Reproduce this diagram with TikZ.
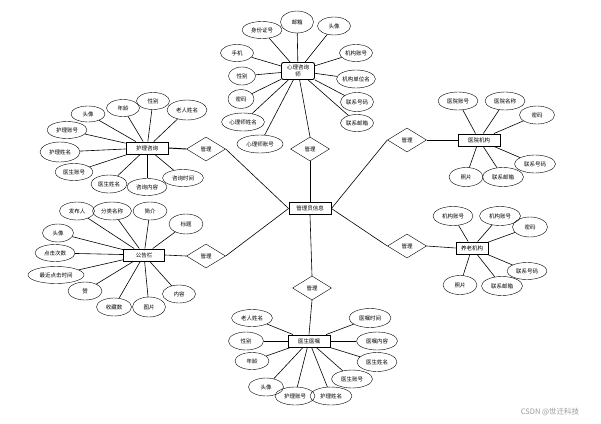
\documentclass[tikz,border=0pt]{standalone}
\usepackage{fontspec}
\newfontfamily\cjk{Noto Sans CJK SC}
\usepackage{tikz}
\usetikzlibrary{shapes.geometric}

\begin{document}
\begin{tikzpicture}[x=1pt,y=-1pt, every node/.style={font=\cjk\fontsize{5.5}{6}\selectfont}, ent/.style={draw,line width=0.9pt,inner sep=1pt,minimum width=42,minimum height=12}, rel/.style={draw,diamond,aspect=1.6,inner sep=0pt,minimum width=39,minimum height=24}, attr/.style={draw,ellipse,inner sep=0pt,minimum width=36,minimum height=18}, ln/.style={line width=0.6pt}, thk/.style={line width=0.95pt}]
\useasboundingbox (0,0) rectangle (601,423);
% entities and relations
\node[ent] (admin) at (310,208.5) {管理员信息};
\node[rel] (r1) at (206,149) {管理};
\node[rel] (r2) at (310,149) {管理};
\node[rel] (r3) at (407,140) {管理};
\node[rel] (r4) at (407,246) {管理};
\node[rel] (r5) at (206,256) {管理};
\node[rel] (r6) at (312,288) {管理};
\node[ent,rounded corners=2pt,minimum width=33,minimum height=17,inner sep=0.5pt,align=center,font=\cjk\fontsize{5.5}{6.5}\selectfont] (psy) at (298,71) {心理咨询\\师};
\node[ent] (nurse) at (147,148) {护理咨询};
\node[ent,minimum width=41] (notice) at (144,255) {公告栏};
\node[ent] (hosp) at (479,140) {医院机构};
\node[ent,minimum width=32] (home) at (472,248) {养老机构};
\node[ent] (doc) at (309,341) {医生医嘱};
\draw[ln] (r1.east)--(admin.west);\draw[thk] (r2.south)--(admin.north);\draw[ln] (r3.west)--(admin.east);\draw[ln] (r4.west)--(admin.east);\draw[ln] (r5.east)--(admin.west);\draw[ln] (r6.north)--(admin.south);
\draw[thk] (nurse.east)--(r1.west);\draw[ln] (r2.north)--(psy);\draw[thk] (hosp.west)--(r3.east);\draw[ln] (home.west)--(r4.east);\draw[ln] (notice.east)--(r5.west);\draw[ln] (r6.south)--(doc.north);
% psychologist
\node[attr,minimum width=40,minimum height=17] (p1) at (262,30) {身份证号};
\node[attr,minimum width=33,minimum height=22] (p2) at (297,22) {邮箱};
\node[attr,minimum width=33] (p3) at (334,26) {头像};
\node[attr,minimum width=33,minimum height=17] (p4) at (237,53) {手机};
\node[attr,minimum width=33,minimum height=17] (p5) at (356,53) {机构账号};
\node[attr,minimum width=27] (p6) at (242,76) {性别};
\node[attr,minimum width=37] (p7) at (356,79) {机构单位名};
\node[attr,minimum width=26,minimum height=19] (p8) at (241,99) {密码};
\node[attr,minimum width=33,minimum height=19] (p9) at (357,102) {联系号码};
\node[attr,minimum width=43] (p10) at (243,122) {心理师姓名};
\node[attr,minimum width=33,minimum height=17] (p11) at (357,123) {联系邮箱};
\node[attr,minimum width=46] (p12) at (260,144) {心理师账号};
\foreach \i in {1,...,12} {\draw[ln] (p\i)--(psy);}
% nursing consultation
\node[attr,minimum width=34,minimum height=16] (n1) at (88,114) {头像};
\node[attr,minimum width=33,minimum height=17] (n2) at (123,108) {年龄};
\node[attr,minimum width=33,minimum height=17] (n3) at (153,101) {性别};
\node[attr,minimum width=40,minimum height=20] (n4) at (187,110) {老人姓名};
\node[attr,minimum width=40,minimum height=17] (n5) at (67,130) {护理账号};
\node[attr,minimum width=40,minimum height=20] (n6) at (60,152) {护理姓名};
\node[attr,minimum width=38,minimum height=17] (n7) at (74,172) {医生账号};
\node[attr,minimum width=36] (n8) at (109,184) {医生姓名};
\node[attr,minimum width=40,minimum height=17] (n9) at (147,187) {咨询内容};
\node[attr,minimum width=41,minimum height=17] (n10) at (183,178) {咨询时间};
\foreach \i in {1,...,10} {\draw[ln] (n\i)--(nurse);}
% notice board
\node[attr,minimum width=35] (b1) at (77,211) {发布人};
\node[attr,minimum width=39] (b2) at (112,211) {分类名称};
\node[attr,minimum width=34] (b3) at (150,211) {简介};
\node[attr,minimum width=34,minimum height=20] (b4) at (186,224) {标题};
\node[attr,minimum width=31] (b5) at (58,233) {头像};
\node[attr,minimum width=40,minimum height=17] (b6) at (55,253) {点击次数};
\node[attr,minimum width=56,minimum height=17] (b7) at (56,275) {最近点击时间};
\node[attr,minimum width=34] (b8) at (85,291) {赞};
\node[attr,minimum width=35] (b9) at (114,307) {收藏数};
\node[attr,minimum width=33,minimum height=20] (b10) at (149,307) {图片};
\node[attr,minimum width=33] (b11) at (179,294) {内容};
\foreach \i in {1,...,11} {\draw[ln] (b\i)--(notice);}
% hospital
\node[attr,minimum width=40] (h1) at (458,101) {医院账号};
\node[attr,minimum width=40] (h2) at (505,101) {医院名称};
\node[attr,minimum width=35] (h3) at (537,115) {密码};
\node[attr,minimum width=41] (h4) at (535,164) {联系号码};
\node[attr,minimum width=34,minimum height=19] (h5) at (466,177) {照片};
\node[attr,minimum width=41,minimum height=19] (h6) at (503,177) {联系邮箱};
\foreach \i in {1,...,6} {\draw[ln] (h\i)--(hosp);}
% elderly care institution
\node[attr,minimum width=40,minimum height=19] (e1) at (453,216) {机构账号};
\node[attr,minimum width=41,minimum height=19] (e2) at (500,216) {机构账号};
\node[attr,minimum width=35,minimum height=20] (e3) at (530,227) {密码};
\node[attr,minimum width=40,minimum height=17] (e4) at (527,271) {联系号码};
\node[attr,minimum width=34,minimum height=19] (e5) at (460,285) {照片};
\node[attr,minimum width=41,minimum height=19] (e6) at (502,286) {联系邮箱};
\foreach \i in {1,...,6} {\draw[ln] (e\i)--(home);}
% doctor's orders
\node[attr,minimum width=41,minimum height=17] (d1) at (252,318) {老人姓名};
\node[attr,minimum width=35] (d2) at (246,341) {性别};
\node[attr,minimum width=34,minimum height=17] (d3) at (252,361) {年龄};
\node[attr,minimum width=35] (d4) at (266,387) {头像};
\node[attr,minimum width=40] (d5) at (295,396) {护理账号};
\node[attr,minimum width=42] (d6) at (331,396) {护理姓名};
\node[attr,minimum width=41] (d7) at (352,379) {医生账号};
\node[attr,minimum width=42,minimum height=19] (d8) at (370,318) {医嘱时间};
\node[attr,minimum width=41] (d9) at (377,341) {医嘱内容};
\node[attr,minimum width=40,minimum height=19] (d10) at (377,362) {医生姓名};
\foreach \i in {1,...,10} {\draw[ln] (d\i)--(doc);}
\node[text=black!40,font=\cjk\fontsize{7.5}{8}\selectfont] (mark) at (550,412) {CSDN @世迁科技};
\end{tikzpicture}
\end{document}
